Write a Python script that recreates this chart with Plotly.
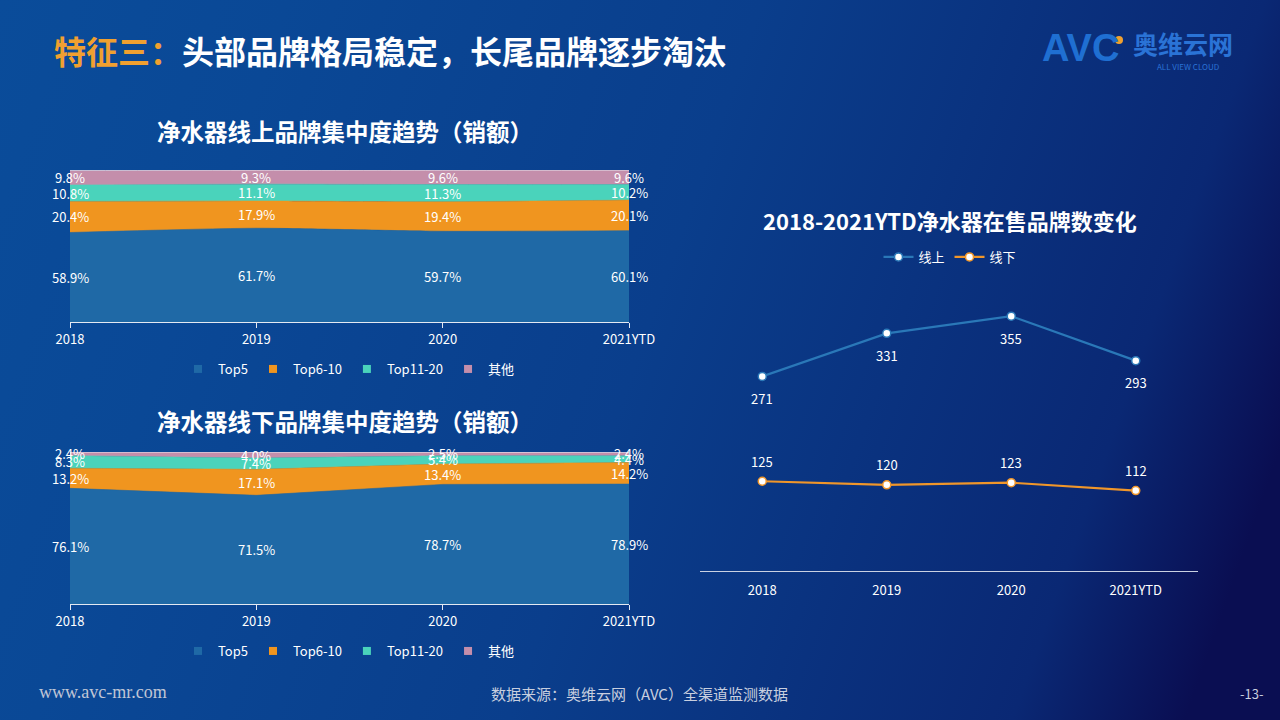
import base64
import plotly.graph_objects as go

# ---------------- data ----------------
years = ["2018", "2019", "2020", "2021YTD"]
series_names = ["Top5", "Top6-10", "Top11-20", "其他"]

online_top5 = [58.9, 61.7, 59.7, 60.1]
online_top6_10 = [20.4, 17.9, 19.4, 20.1]
online_top11_20 = [10.8, 11.1, 11.3, 10.2]
online_other = [9.8, 9.3, 9.6, 9.6]

offline_top5 = [76.1, 71.5, 78.7, 78.9]
offline_top6_10 = [13.2, 17.1, 13.4, 14.2]
offline_top11_20 = [8.3, 7.4, 5.4, 4.4]
offline_other = [2.4, 4.0, 2.5, 2.4]

brand_online = [271, 331, 355, 293]
brand_offline = [125, 120, 123, 112]
line_names = ["线上", "线下"]

# ---------------- style ----------------
area_colors = ["#1f69a6", "#f0951f", "#4ad3bb", "#c48eab"]
line_colors = ["#2a78b8", "#f0962a"]
FONT = "Noto Sans CJK SC, Noto Sans, sans-serif"
WHITE = "#ffffff"

fig = go.Figure()

online_series = [online_top5, online_top6_10, online_top11_20, online_other]
offline_series = [offline_top5, offline_top6_10, offline_top11_20, offline_other]


def add_area(series, xa, ya, group, shape):
    for i, (name, vals) in enumerate(zip(series_names, series)):
        top = i == len(series) - 1
        fig.add_trace(go.Scatter(
            x=years, y=vals, name=name, stackgroup=group, mode="lines",
            line=dict(width=1 if top else 0.6,
                      color="#e6e8f2" if top else area_colors[i],
                      shape=shape, smoothing=0.6),
            fillcolor=area_colors[i], xaxis=xa, yaxis=ya,
            showlegend=False, hoverinfo="x+y+name"))


add_area(online_series, "x", "y", "on", "spline")
add_area(offline_series, "x2", "y2", "off", "linear")

# legend-only markers for the two area charts
for leg in ["legend", "legend2"]:
    for name, c in zip(series_names, area_colors):
        fig.add_trace(go.Scatter(
            x=[None], y=[None], mode="markers", name=name,
            marker=dict(symbol="square", size=8, color=c),
            xaxis="x", yaxis="y", legend=leg, hoverinfo="skip"))

# line chart
for name, vals, c in zip(line_names, [brand_online, brand_offline], line_colors):
    fig.add_trace(go.Scatter(
        x=years, y=vals, name=name, mode="lines+markers",
        line=dict(color=c, width=2.2),
        marker=dict(size=8, color="#ffffff", line=dict(color=c, width=1.5)),
        xaxis="x3", yaxis="y3", legend="legend3"))

annotations = []


def area_labels(series, xa, ya):
    for j in range(len(years)):
        base = 0.0
        for vals in series:
            v = vals[j]
            annotations.append(dict(
                x=j, y=base + v / 2, xref=xa, yref=ya, text=f"{v:.1f}%",
                showarrow=False, xanchor="center", yanchor="middle",
                font=dict(family=FONT, size=13, color=WHITE)))
            base += v


area_labels(online_series, "x", "y")
area_labels(offline_series, "x2", "y2")

for j, v in enumerate(brand_online):
    annotations.append(dict(x=j, y=v, xref="x3", yref="y3", text=str(v),
                            showarrow=False, yshift=-22,
                            font=dict(family=FONT, size=13, color=WHITE)))
for j, v in enumerate(brand_offline):
    annotations.append(dict(x=j, y=v, xref="x3", yref="y3", text=str(v),
                            showarrow=False, yshift=20,
                            font=dict(family=FONT, size=13, color=WHITE)))

# titles / texts
annotations += [
    dict(x=52 / 1280, y=1 - 50 / 720, xref="paper", yref="paper", xanchor="left", yanchor="middle",
         text="<b><span style='color:#f0a030'>特征三：</span>头部品牌格局稳定，长尾品牌逐步淘汰</b>",
         showarrow=False, font=dict(family=FONT, size=32, color=WHITE)),
    dict(x=345 / 1280, y=1 - 131 / 720, xref="paper", yref="paper", xanchor="center", yanchor="middle",
         text="<b>净水器线上品牌集中度趋势（销额）</b>", showarrow=False,
         font=dict(family=FONT, size=23.5, color=WHITE)),
    dict(x=345 / 1280, y=1 - 421 / 720, xref="paper", yref="paper", xanchor="center", yanchor="middle",
         text="<b>净水器线下品牌集中度趋势（销额）</b>", showarrow=False,
         font=dict(family=FONT, size=23.5, color=WHITE)),
    dict(x=950 / 1280, y=1 - 220 / 720, xref="paper", yref="paper", xanchor="center", yanchor="middle",
         text="<b>2018-2021YTD净水器在售品牌数变化</b>", showarrow=False,
         font=dict(family=FONT, size=22, color=WHITE)),
    # logo
    dict(x=1040 / 1280, y=1 - 48 / 720, xref="paper", yref="paper", xanchor="left", yanchor="middle",
         text="<b>AVC</b>", showarrow=False,
         font=dict(family="Liberation Sans, Arial, sans-serif", size=38, color="#1f6fd2")),
    dict(x=1131 / 1280, y=1 - 43 / 720, xref="paper", yref="paper", xanchor="left", yanchor="middle",
         text="<b>奥维云网</b>", showarrow=False,
         font=dict(family=FONT, size=25, color="#2a73d6")),
    dict(x=1188 / 1280, y=1 - 66 / 720, xref="paper", yref="paper", xanchor="center", yanchor="middle",
         text="ALL VIEW CLOUD", showarrow=False,
         font=dict(family=FONT, size=8, color="#2a73d6")),
    # footer
    dict(x=37 / 1280, y=1 - 692 / 720, xref="paper", yref="paper", xanchor="left", yanchor="middle",
         text="www.avc-mr.com", showarrow=False,
         font=dict(family="Liberation Serif, serif", size=18, color="#c0c6d6")),
    dict(x=639 / 1280, y=1 - 693 / 720, xref="paper", yref="paper", xanchor="center", yanchor="middle",
         text="数据来源：奥维云网（AVC）全渠道监测数据", showarrow=False,
         font=dict(family=FONT, size=15, color="#c8cfdf")),
    dict(x=1251 / 1280, y=1 - 693 / 720, xref="paper", yref="paper", xanchor="center", yanchor="middle",
         text="-13-", showarrow=False,
         font=dict(family=FONT, size=13, color="#c8cfdf")),
]

# gradient background as an inline svg image
svg = (
    '<svg xmlns="http://www.w3.org/2000/svg" width="1280" height="720">'
    '<defs><linearGradient id="g" x1="0" y1="0" x2="1280" y2="450" gradientUnits="userSpaceOnUse">'
    '<stop offset="0" stop-color="#0a4c9a"/>'
    '<stop offset="0.2" stop-color="#0a4896"/>'
    '<stop offset="0.53" stop-color="#0a3e8c"/>'
    '<stop offset="0.88" stop-color="#0a2874"/>'
    '<stop offset="1" stop-color="#0a0e52"/>'
    '</linearGradient></defs>'
    '<rect width="1280" height="720" fill="url(#g)"/></svg>'
)
bg_src = "data:image/svg+xml;base64," + base64.b64encode(svg.encode()).decode()

x_area = dict(type="category", range=[0, 3], showgrid=False, zeroline=False,
              showline=True, linecolor="#e4e9f2", linewidth=1,
              ticks="outside", ticklen=5, tickcolor="#e4e9f2",
              tickfont=dict(family=FONT, size=13, color=WHITE), fixedrange=True)
y_area = dict(range=[0, 100], visible=False, fixedrange=True)

legend_common = dict(orientation="h", xanchor="center", yanchor="middle",
                     bgcolor="rgba(0,0,0,0)", font=dict(family=FONT, size=13, color=WHITE),
                     itemwidth=30, tracegroupgap=0, traceorder="normal")

fig.update_layout(
    width=1280, height=720,
    margin=dict(l=0, r=0, t=0, b=0, pad=0, autoexpand=False),
    paper_bgcolor="#0a3e8c", plot_bgcolor="rgba(0,0,0,0)",
    images=[dict(source=bg_src, xref="paper", yref="paper", x=0, y=1, sizex=1, sizey=1,
                 xanchor="left", yanchor="top", sizing="stretch", layer="below")],
    xaxis=dict(domain=[70 / 1280, 629 / 1280], anchor="y", **x_area),
    yaxis=dict(domain=[1 - 322 / 720, 1 - 170 / 720], anchor="x", **y_area),
    xaxis2=dict(domain=[70 / 1280, 629 / 1280], anchor="y2", **x_area),
    yaxis2=dict(domain=[1 - 604 / 720, 1 - 452 / 720], anchor="x2", **y_area),
    xaxis3=dict(domain=[700 / 1280, 1198 / 1280], anchor="y3", type="category",
                range=[-0.5, 3.5], showgrid=False, zeroline=False, showline=True,
                linecolor="#c9d1e2", linewidth=1, ticks="outside", ticklen=7,
                tickcolor="rgba(0,0,0,0)",
                tickfont=dict(family=FONT, size=13, color=WHITE), fixedrange=True),
    yaxis3=dict(domain=[1 - 571 / 720, 1 - 290 / 720], anchor="x3", range=[0, 391.4],
                visible=False, fixedrange=True),
    legend=dict(x=349 / 1280, y=1 - 369 / 720, **legend_common),
    legend2=dict(x=349 / 1280, y=1 - 651 / 720, **legend_common),
    legend3=dict(x=950 / 1280, y=1 - 257 / 720, **legend_common),
    annotations=annotations,
    shapes=[dict(type="circle", xref="paper", yref="paper",
                 x0=1115 / 1280, x1=1123 / 1280, y0=1 - 44 / 720, y1=1 - 36 / 720,
                 fillcolor="#f0a030", line=dict(width=0))],
    showlegend=True,
)

fig.write_html("out.html", config={"displayModeBar": False},
               post_script="document.body.style.margin='0';")
